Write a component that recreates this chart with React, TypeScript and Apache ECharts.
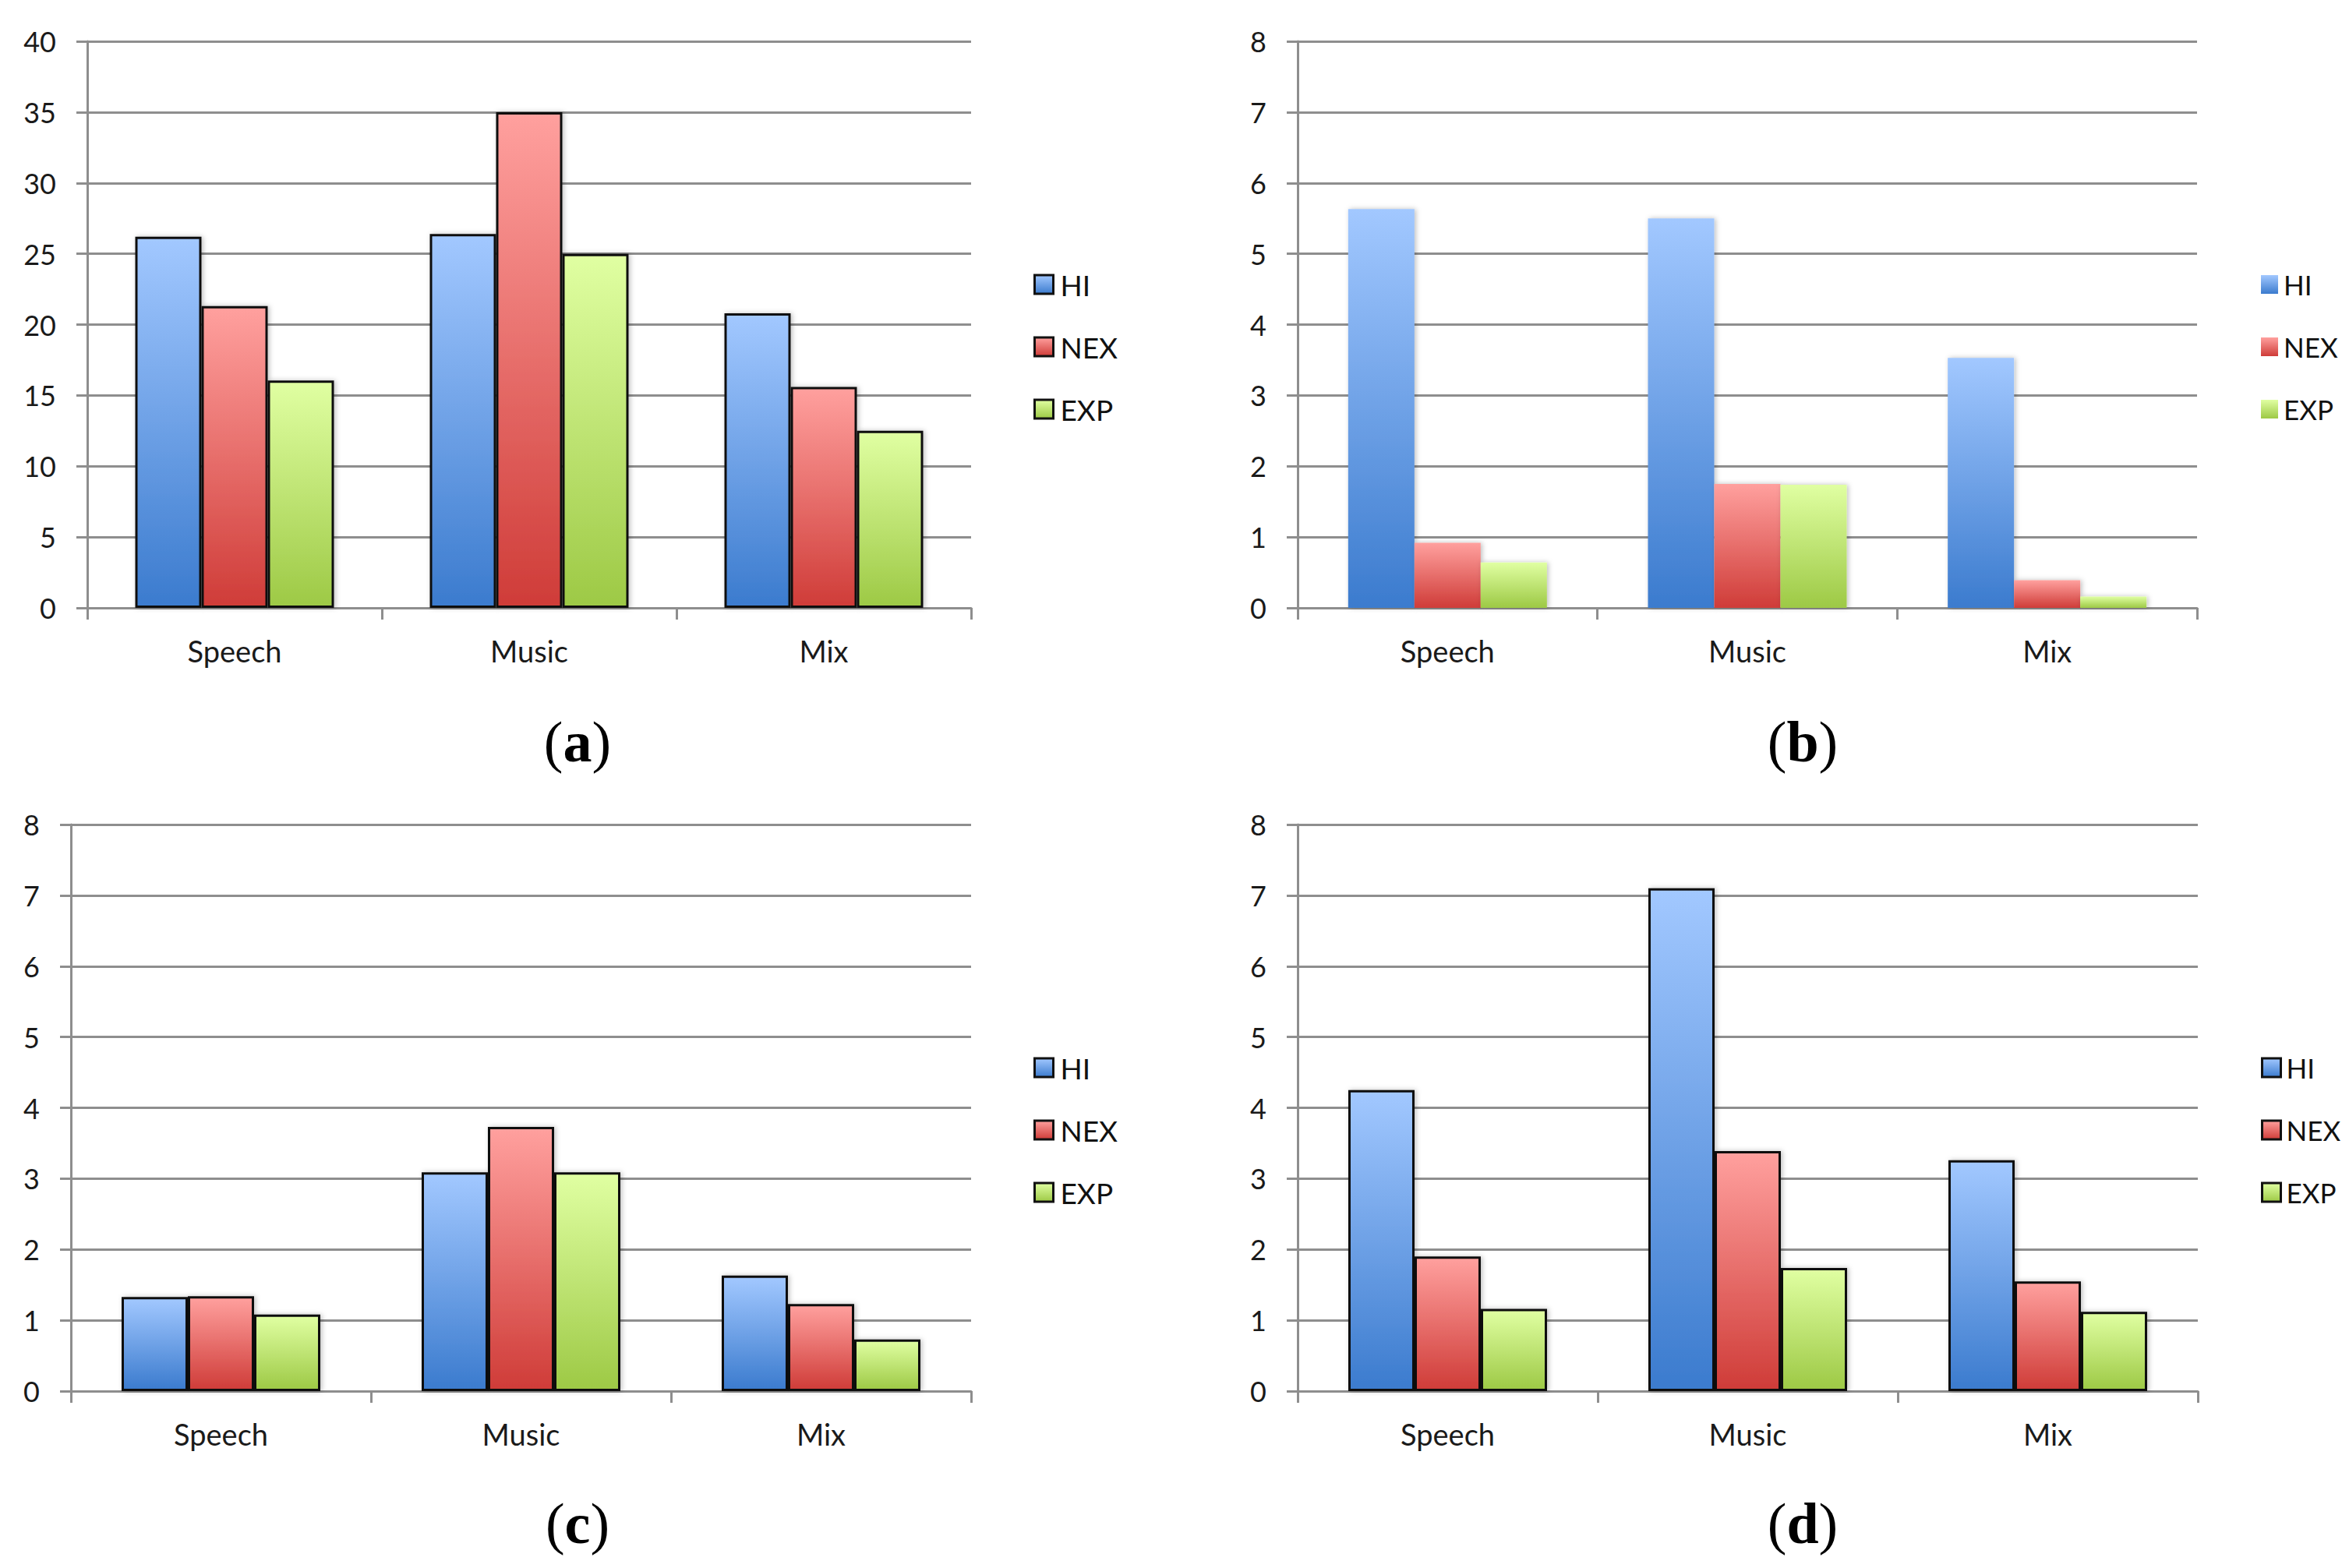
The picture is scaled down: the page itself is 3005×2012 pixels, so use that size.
import React, { useEffect, useRef } from "react";
import * as echarts from "echarts";

const categories = ["Speech", "Music", "Mix"];
const seriesNames = ["HI", "NEX", "EXP"];

// panel (a)
const aHI = [26.2, 26.4, 20.8];
const aNEX = [21.3, 35.0, 15.6];
const aEXP = [16.05, 25.0, 12.5];
// panel (b)
const bHI = [5.63, 5.5, 3.53];
const bNEX = [0.92, 1.75, 0.39];
const bEXP = [0.64, 1.74, 0.16];
// panel (c)
const cHI = [1.33, 3.09, 1.63];
const cNEX = [1.34, 3.73, 1.23];
const cEXP = [1.08, 3.09, 0.73];
// panel (d)
const dHI = [4.25, 7.1, 3.26];
const dNEX = [1.9, 3.39, 1.55];
const dEXP = [1.16, 1.74, 1.12];

const panelLetters = ["a", "b", "c", "d"];
const yMax = [40, 8, 8, 8];
const yInterval = [5, 1, 1, 1];

const FONT = "Lato, 'Open Sans', sans-serif";
const GRID_GRAY = "#8e8e8e";

const gradients: Record<string, [string, string]> = {
  HI: ["#a2c8ff", "#3b7bce"],
  NEX: ["#ffa09e", "#cf3c38"],
  EXP: ["#e0ffa2", "#9dc945"],
};

function grad(name: string) {
  const [top, bottom] = gradients[name];
  return new echarts.graphic.LinearGradient(0, 0, 0, 1, [
    { offset: 0, color: top },
    { offset: 1, color: bottom },
  ]);
}

export default function App() {
  const ref = useRef<HTMLDivElement>(null);

  useEffect(() => {
    if (!ref.current) return;
    document.body.style.margin = "0";
    const chart = echarts.init(ref.current, undefined, { renderer: "svg" });

    const grids = [
      { left: 112, top: 53, width: 1134, height: 727 },
      { left: 1665, top: 53, width: 1154, height: 727 },
      { left: 91, top: 1058, width: 1155, height: 727 },
      { left: 1665, top: 1058, width: 1155, height: 727 },
    ];
    const legendPos = [
      { left: 1321, top: 341 },
      { left: 2896, top: 341 },
      { left: 1321, top: 1346 },
      { left: 2896, top: 1346 },
    ];
    const captionPos = [
      [741, 952],
      [2313, 952],
      [741, 1955],
      [2313, 1955],
    ];
    const panelData = [
      [aHI, aNEX, aEXP],
      [bHI, bNEX, bEXP],
      [cHI, cNEX, cEXP],
      [dHI, dNEX, dEXP],
    ];
    const bordered = [true, false, true, true];
    const rightSide = [false, true, false, true];

    const xAxis = grids.map((_, i) => ({
      type: "category",
      gridIndex: i,
      data: categories,
      boundaryGap: true,
      axisLine: { show: true, lineStyle: { color: GRID_GRAY, width: 3 } },
      axisTick: { show: true, length: 15, lineStyle: { color: GRID_GRAY, width: 3 } },
      axisLabel: { fontFamily: FONT, fontSize: 38, color: "#1a1a1a", margin: 36 },
    }));
    const yAxis = grids.map((_, i) => ({
      type: "value",
      gridIndex: i,
      min: 0,
      max: yMax[i],
      interval: yInterval[i],
      axisLine: { show: true, lineStyle: { color: GRID_GRAY, width: 3 } },
      axisTick: { show: true, length: 14, lineStyle: { color: GRID_GRAY, width: 3 } },
      splitLine: { show: true, lineStyle: { color: GRID_GRAY, width: 3 } },
      axisLabel: { fontFamily: FONT, fontSize: 36, color: "#1a1a1a", margin: 40 },
    }));

    const series: any[] = [];
    panelData.forEach((vals, p) => {
      seriesNames.forEach((name, k) => {
        series.push({
          type: "bar",
          name,
          xAxisIndex: p,
          yAxisIndex: p,
          data: vals[k],
          barWidth: 85,
          barGap: "0%",
          itemStyle: {
            color: grad(name),
            borderColor: bordered[p] ? "#111" : "transparent",
            borderWidth: bordered[p] ? 3 : 0,
            shadowColor: "rgba(0,0,0,0.25)",
            shadowBlur: 6,
            shadowOffsetX: 2,
            shadowOffsetY: 0,
          },
        });
      });
    });

    const legend = legendPos.map((pos, p) => ({
      orient: "vertical",
      left: pos.left,
      top: pos.top,
      itemWidth: bordered[p] ? 24 : 22,
      itemHeight: 24,
      itemGap: 42,
      icon: "rect",
      selectedMode: false,
      textStyle: {
        fontFamily: FONT,
        fontSize: rightSide[p] ? 35 : 37,
        color: "#111",
        lineHeight: 38,
        padding: rightSide[p] ? [0, 0, 0, 2] : [0, 0, 0, 4],
      },
      data: seriesNames.map((name) => ({
        name,
        itemStyle: {
          color: grad(name),
          borderColor: bordered[p] ? "#111" : "transparent",
          borderWidth: bordered[p] ? 3 : 0,
          shadowBlur: 0,
        },
      })),
    }));

    const graphic = captionPos.map((pos, p) => ({
      type: "text",
      x: pos[0],
      y: pos[1],
      style: {
        text: "{p|(}{b|" + panelLetters[p] + "}{p|)}",
        align: "center",
        verticalAlign: "middle",
        rich: {
          p: { fontFamily: "'Liberation Serif', serif", fontSize: 74, color: "#000" },
          b: { fontFamily: "'Liberation Serif', serif", fontSize: 74, fontWeight: "bold", color: "#000" },
        },
      },
    }));

    chart.setOption({
      animation: false,
      backgroundColor: "#ffffff",
      grid: grids.map((g) => ({ ...g, containLabel: false })),
      xAxis,
      yAxis,
      legend,
      series,
      graphic,
    });

    return () => chart.dispose();
  }, []);

  return (
    <div
      ref={ref}
      style={{ position: "absolute", left: 0, top: 0, width: 3005, height: 2012 }}
    />
  );
}
